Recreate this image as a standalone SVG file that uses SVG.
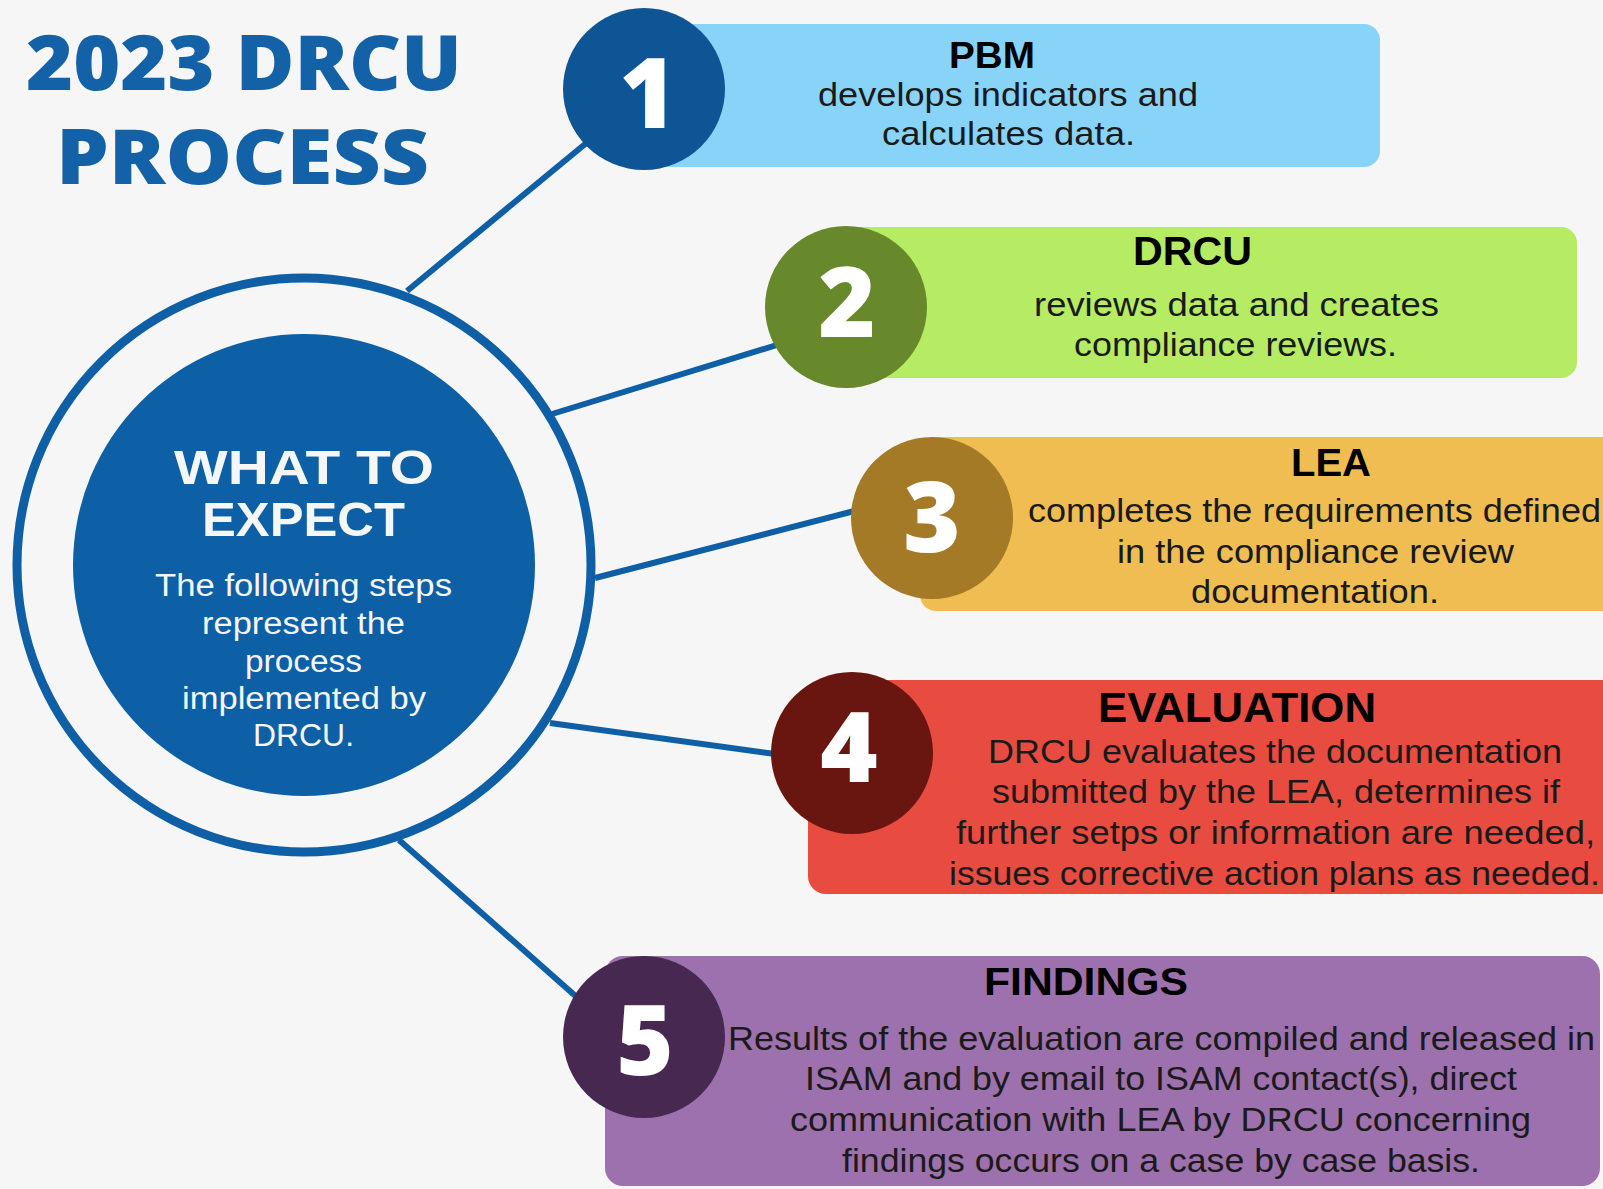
<svg xmlns="http://www.w3.org/2000/svg" width="1603" height="1189" viewBox="0 0 1603 1189">
<style>
.title{font-family:"Open Sans","Liberation Sans",sans-serif;font-weight:800;font-size:76px;fill:#1361A7}
.num{font-family:"Open Sans","Liberation Sans",sans-serif;font-weight:800;font-size:98px;fill:#FFFFFF;text-anchor:middle}
.head{font-family:"Liberation Sans","Open Sans",sans-serif;font-weight:700;fill:#000000}
.body{font-family:"Liberation Sans","Open Sans",sans-serif;font-weight:400;font-size:34px;fill:#1A1A1A}
.ctitle{font-family:"Liberation Sans","Open Sans",sans-serif;font-weight:700;font-size:48px;fill:#F6F6F6}
.cbody{font-family:"Liberation Sans","Open Sans",sans-serif;font-weight:400;font-size:31px;fill:#F6F6F6}
.conn{stroke:#0E5FA6;stroke-width:6;fill:none}
</style>
<rect x="0" y="0" width="1603" height="1189" fill="#F6F6F6"/>

<g id="title">
<text class="title" x="26" y="90" textLength="436" lengthAdjust="spacingAndGlyphs">2023 DRCU</text>
<text class="title" x="56" y="184" textLength="373" lengthAdjust="spacingAndGlyphs">PROCESS</text>
</g>

<g id="connectors">
<line class="conn" x1="407" y1="291" x2="590" y2="140"/>
<line class="conn" x1="552" y1="414" x2="780" y2="344"/>
<line class="conn" x1="595" y1="578" x2="858" y2="510"/>
<line class="conn" x1="550" y1="723" x2="775" y2="754"/>
<line class="conn" x1="399" y1="840" x2="580" y2="1000"/>
</g>

<g id="center">
<circle cx="304" cy="565" r="287" fill="none" stroke="#0E5FA6" stroke-width="9"/>
<circle cx="304" cy="565" r="231" fill="#0D60A6"/>
<text class="ctitle" x="174" y="484" textLength="260" lengthAdjust="spacingAndGlyphs">WHAT TO</text>
<text class="ctitle" x="202" y="536" textLength="203" lengthAdjust="spacingAndGlyphs">EXPECT</text>
<text class="cbody" x="155" y="596" textLength="297" lengthAdjust="spacingAndGlyphs">The following steps</text>
<text class="cbody" x="202" y="634" textLength="203" lengthAdjust="spacingAndGlyphs">represent the</text>
<text class="cbody" x="245" y="672" textLength="117" lengthAdjust="spacingAndGlyphs">process</text>
<text class="cbody" x="182" y="709" textLength="244" lengthAdjust="spacingAndGlyphs">implemented by</text>
<text class="cbody" x="253" y="746" textLength="101" lengthAdjust="spacingAndGlyphs">DRCU.</text>
</g>

<g id="step1">
<rect x="644" y="24" width="736" height="143" rx="16" fill="#88D4F8"/>
<circle cx="644" cy="89" r="81" fill="#0D5594"/>
<text class="num" x="648" y="128">1</text>
<text class="head" x="949" y="68" font-size="36" textLength="86" lengthAdjust="spacingAndGlyphs">PBM</text>
<text class="body" x="818" y="106" textLength="380" lengthAdjust="spacingAndGlyphs">develops indicators and</text>
<text class="body" x="882" y="145" textLength="253" lengthAdjust="spacingAndGlyphs">calculates data.</text>
</g>

<g id="step2">
<rect x="846" y="227" width="731" height="151" rx="16" fill="#B5EC63"/>
<circle cx="846" cy="307" r="81" fill="#67882B"/>
<text class="num" x="847" y="337">2</text>
<text class="head" x="1133" y="265" font-size="40" textLength="119" lengthAdjust="spacingAndGlyphs">DRCU</text>
<text class="body" x="1034" y="316" textLength="405" lengthAdjust="spacingAndGlyphs">reviews data and creates</text>
<text class="body" x="1074" y="356" textLength="323" lengthAdjust="spacingAndGlyphs">compliance reviews.</text>
</g>

<g id="step3">
<rect x="920" y="437" width="720" height="174" rx="16" fill="#F0BD52"/>
<circle cx="932" cy="518" r="81" fill="#A47A27"/>
<text class="num" x="932" y="552">3</text>
<text class="head" x="1291" y="476" font-size="38" textLength="80" lengthAdjust="spacingAndGlyphs">LEA</text>
<text class="body" x="1028" y="522" textLength="573" lengthAdjust="spacingAndGlyphs">completes the requirements defined</text>
<text class="body" x="1117" y="563" textLength="397" lengthAdjust="spacingAndGlyphs">in the compliance review</text>
<text class="body" x="1191" y="603" textLength="248" lengthAdjust="spacingAndGlyphs">documentation.</text>
</g>

<g id="step4">
<rect x="808" y="680" width="830" height="214" rx="18" fill="#E84C40"/>
<circle cx="852" cy="753" r="81" fill="#6A1610"/>
<text class="num" x="849" y="782">4</text>
<text class="head" x="1098" y="722" font-size="42" textLength="278" lengthAdjust="spacingAndGlyphs">EVALUATION</text>
<text class="body" x="988" y="763" textLength="574" lengthAdjust="spacingAndGlyphs">DRCU evaluates the documentation</text>
<text class="body" x="992" y="803" textLength="568" lengthAdjust="spacingAndGlyphs">submitted by the LEA, determines if</text>
<text class="body" x="956" y="844" textLength="639" lengthAdjust="spacingAndGlyphs">further setps or information are needed,</text>
<text class="body" x="949" y="885" textLength="651" lengthAdjust="spacingAndGlyphs">issues corrective action plans as needed.</text>
</g>

<g id="step5">
<rect x="605" y="956" width="995" height="230" rx="18" fill="#9D71AD"/>
<circle cx="644" cy="1037" r="81" fill="#462851"/>
<text class="num" x="645" y="1075">5</text>
<text class="head" x="984" y="995" font-size="38" textLength="204" lengthAdjust="spacingAndGlyphs">FINDINGS</text>
<text class="body" x="728" y="1050" textLength="867" lengthAdjust="spacingAndGlyphs">Results of the evaluation are compiled and released in</text>
<text class="body" x="805" y="1090" textLength="712" lengthAdjust="spacingAndGlyphs">ISAM and by email to ISAM contact(s), direct</text>
<text class="body" x="790" y="1131" textLength="741" lengthAdjust="spacingAndGlyphs">communication with LEA by DRCU concerning</text>
<text class="body" x="842" y="1172" textLength="638" lengthAdjust="spacingAndGlyphs">findings occurs on a case by case basis.</text>
</g>
</svg>
